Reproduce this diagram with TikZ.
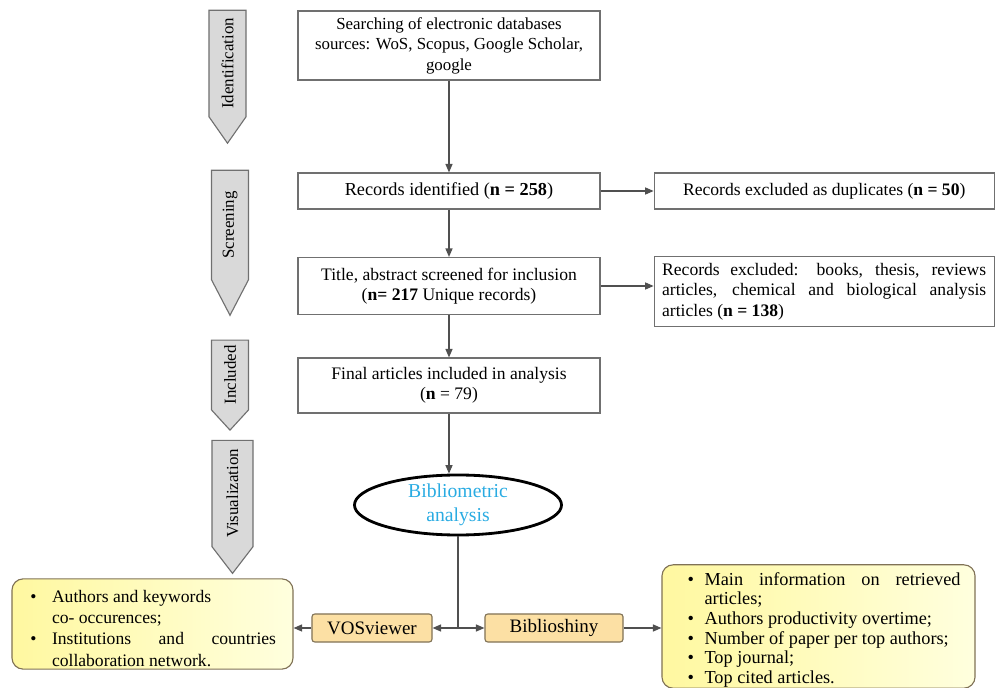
\documentclass[tikz,border=0pt]{standalone}
\usepackage{fontspec}
\setmainfont{Liberation Serif}
\usepackage{enumitem}
\usepackage{tikz}
\usetikzlibrary{shapes.symbols, shapes.geometric, arrows.meta, positioning}
\definecolor{boxgray}{RGB}{112, 112, 112}
\definecolor{linegray}{RGB}{80, 80, 80}
\definecolor{phasegray}{RGB}{217, 217, 217}
\definecolor{tabfill}{RGB}{252, 224, 164}
\definecolor{tabline}{RGB}{128, 114, 86}
\definecolor{ylwdark}{RGB}{255, 248, 160}
\definecolor{ylwlight}{RGB}{255, 255, 222}
\definecolor{bibblue}{RGB}{41, 171, 226}

\begin{document}
\begin{tikzpicture}[x=0.025cm, y=-0.025cm,
        font=\fontsize{12.5}{14.5}\selectfont,
        stagebox/.style={draw=boxgray, line width=0.8pt, fill=white, minimum width=7.55cm, align=center, inner sep=2pt},
        phase/.style={signal, signal to=west, rotate=90, draw=boxgray, line width=0.8pt, fill=phasegray, minimum height=0.925cm, inner sep=1pt, font=\fontsize{12}{14}\selectfont},
        toolbox/.style={draw=tabline, line width=0.8pt, rounded corners=2pt, fill=tabfill, minimum height=0.7cm, font=\fontsize{13.5}{15}\selectfont},
        notebox/.style={draw=tabline, line width=0.8pt, rounded corners=8pt, left color=ylwdark, right color=ylwlight, align=justify, inner ysep=2pt},
        flow/.style={draw=linegray, line width=0.8pt, -{Triangle[length=6pt, width=5pt]}}
    ]
        \useasboundingbox (0,0) rectangle (995,688);
        % Phases
        \node[phase, minimum width=3.325cm, signal pointer angle=70] (ident) at (227.5,63.5) {Identification};
        \node[phase, minimum width=3.625cm, signal pointer angle=55] (screen) at (230,225) {Screening};
        \node[phase, minimum width=2.25cm, signal pointer angle=85] (incl) at (230,375) {Included};
        \node[phase, minimum width=3.325cm, minimum height=1.025cm, signal pointer angle=75] (visual) at (232.5,493.5) {Visualization};
        % Main column
        \node[stagebox, minimum height=1.725cm, font=\fontsize{12}{14.5}\selectfont] (search) at (449,45.5) {Searching of electronic databases\\sources: WoS, Scopus, Google Scholar,\\google};
        \node[stagebox, minimum height=0.9cm, font=\fontsize{13}{15}\selectfont] (recs) at (449,191) {Records identified (\textbf{n = 258})};
        \node[stagebox, minimum height=1.425cm] (title) at (449,286) {Title, abstract screened for inclusion\\(\textbf{n= 217} Unique records)};
        \node[stagebox, minimum height=1.375cm] (final) at (449,385.5) {Final articles included in analysis\\(\textbf{n} = 79)};
        \node[ellipse, draw, line width=2pt, minimum width=5.175cm, minimum height=1.5cm, inner sep=0pt, text=bibblue, align=center, font=\fontsize{14}{17}\selectfont] (bib) at (458,505) {Bibliometric\\analysis};
        % Exclusions
        \node[stagebox, minimum width=8.5cm, minimum height=0.9cm, right=1.325cm of recs] (dups) {Records excluded as duplicates (\textbf{n = 50})};
        \node[stagebox, minimum height=1.75cm, text width=8.1cm, inner xsep=0.2cm, align=justify, right=1.325cm of title, yshift=-0.14cm] (excl) {Records excluded: books, thesis, reviews\linebreak articles, chemical and biological analysis\linebreak articles (\textbf{n = 138})};
        % Tools
        \node[toolbox, minimum width=3cm] (vos) at (372,628) {VOSviewer};
        \node[toolbox, minimum width=3.45cm] (shiny) at (554,628) {Biblioshiny};
        \node[notebox, minimum height=2.15cm, text width=6.175cm, inner xsep=0.425cm, font=\fontsize{12.5}{15}\selectfont] (vosnote) at (152.5,624) {%
            \begin{itemize}[nosep, leftmargin=16.4pt, labelsep=11pt]
                \item Authors and keywords\newline co- occurences;
                \item Institutions and countries\linebreak collaboration network.
            \end{itemize}};
        \node[notebox, minimum height=2.975cm, text width=7.1cm, inner xsep=0.3625cm, inner ysep=0.5pt, font=\fontsize{13}{14}\selectfont] (shinynote) at (818.5,626.5) {%
            \begin{itemize}[nosep, leftmargin=20pt, labelsep=7.5pt]
                \item Main information on retrieved\linebreak articles;
                \item Authors productivity overtime;
                \item Number of paper per top authors;
                \item Top journal;
                \item Top cited articles.
            \end{itemize}};
        \coordinate (split) at (bib.south |- vos.east);
        % Connectors
        \draw[flow] (search) -- (recs);
        \draw[flow] (recs) -- (title);
        \draw[flow] (title) -- (final);
        \draw[flow] (final.south) -- (final.south |- bib.north);
        \draw[flow] (recs) -- (dups);
        \draw[flow] (title.east) -- (title.east -| excl.west);
        \draw[draw=linegray, line width=0.8pt] (bib.south) -- (split);
        \draw[flow] (split) -- (vos.east);
        \draw[flow] (split) -- (shiny.west);
        \draw[flow] (vos.west) -- (vos.west -| vosnote.east);
        \draw[flow] (shiny.east) -- (shiny.east -| shinynote.west);
    \end{tikzpicture}
\end{document}
